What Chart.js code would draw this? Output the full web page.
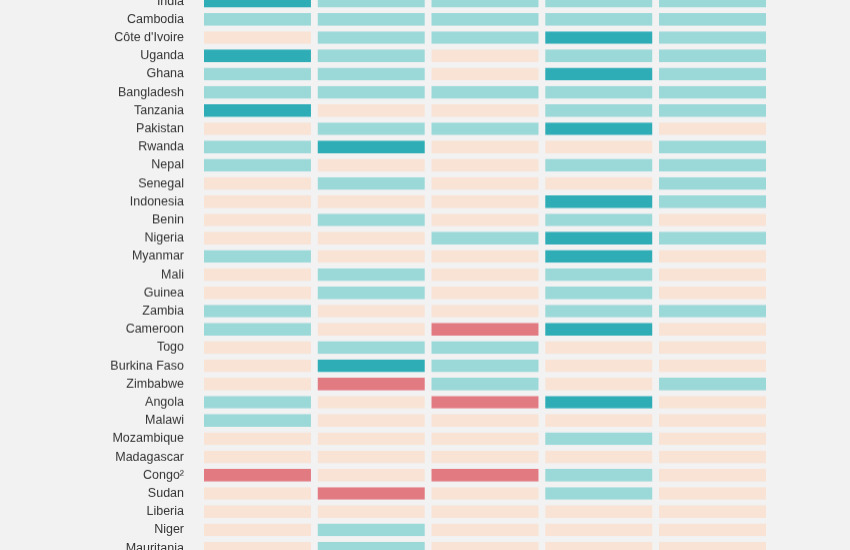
<!DOCTYPE html>
<html>
<head>
<meta charset="utf-8">
<script src="https://cdn.jsdelivr.net/npm/chart.js@4.4.1/dist/chart.umd.min.js"></script>
<style>
  html, body { margin: 0; padding: 0; background: #f2f2f3; overflow: hidden; }
  #wrap { position: absolute; left: 0; top: -7.6px; width: 850px; height: 564.2px; }
</style>
</head>
<body>
<div id="wrap"><canvas id="grafica"></canvas></div>
<script>
// paises (filas)
const countries = ["India", "Cambodia", "Côte d'Ivoire", "Uganda", "Ghana", "Bangladesh", "Tanzania",
  "Pakistan", "Rwanda", "Nepal", "Senegal", "Indonesia", "Benin", "Nigeria", "Myanmar", "Mali",
  "Guinea", "Zambia", "Cameroon", "Togo", "Burkina Faso", "Zimbabwe", "Angola", "Malawi",
  "Mozambique", "Madagascar", "Congo²", "Sudan", "Liberia", "Niger", "Mauritania"];

// nivel de cada celda: 0 = rojo, 1 = durazno, 2 = turquesa claro, 3 = turquesa oscuro
const col1 = [3,2,1,3,2,2,3,1,2,2,1,1,1,1,2,1,1,2,2,1,1,1,2,2,1,1,0,1,1,1,1];
const col2 = [2,2,2,2,2,2,1,2,3,1,2,1,2,1,1,2,2,1,1,2,3,0,1,1,1,1,1,0,1,2,2];
const col3 = [2,2,2,1,1,2,1,2,1,1,1,1,1,2,1,1,1,1,0,2,2,2,0,1,1,1,0,1,1,1,1];
const col4 = [2,2,3,2,3,2,2,3,1,2,1,3,2,3,3,2,2,2,3,1,1,1,3,1,2,1,2,2,1,1,1];
const col5 = [2,2,2,2,2,2,2,1,2,2,2,2,1,2,1,1,1,2,1,1,1,2,1,1,1,1,1,1,1,1,1];

const columnNames = ["Column 1", "Column 2", "Column 3", "Column 4", "Column 5"];
const levelColors = ["#e27a82", "#f8e3d5", "#9bd8d8", "#2eadb6"];

const fondo = "#f2f2f3";
const columnas = [col1, col2, col3, col4, col5];

const datasets = columnas.map(function (col, i) {
  return {
    label: columnNames[i],
    data: col.map(function () { return 1; }), // cada celda ocupa una unidad
    backgroundColor: col.map(function (v) { return levelColors[v]; }),
    borderColor: fondo,
    borderWidth: { left: 3.4, right: 3.4, top: 0, bottom: 0 },
    borderSkipped: false,
    categoryPercentage: 1,
    barPercentage: 0.7
  };
});

new Chart(document.getElementById("grafica"), {
  type: "bar",
  data: { labels: countries, datasets: datasets },
  options: {
    indexAxis: "y",
    responsive: true,
    maintainAspectRatio: false,
    animation: false,
    layout: { padding: { left: 0, right: 80.6, top: 0, bottom: 0 } },
    plugins: { legend: { display: false }, tooltip: { enabled: false } },
    scales: {
      x: { stacked: true, min: 0, max: 5, display: false },
      y: {
        stacked: true,
        grid: { display: false, drawTicks: false },
        border: { display: false },
        ticks: {
          color: "#333",
          padding: 16.6,
          autoSkip: false,
          font: { family: "'Liberation Sans', Arial, sans-serif", size: 12.5 }
        },
        afterFit: function (scale) {
          scale.width = 200.6;
          // sin relleno extra arriba/abajo: las filas llenan todo el alto
          scale.paddingTop = 0;
          scale.paddingBottom = 0;
        }
      }
    }
  }
});
</script>
</body>
</html>
